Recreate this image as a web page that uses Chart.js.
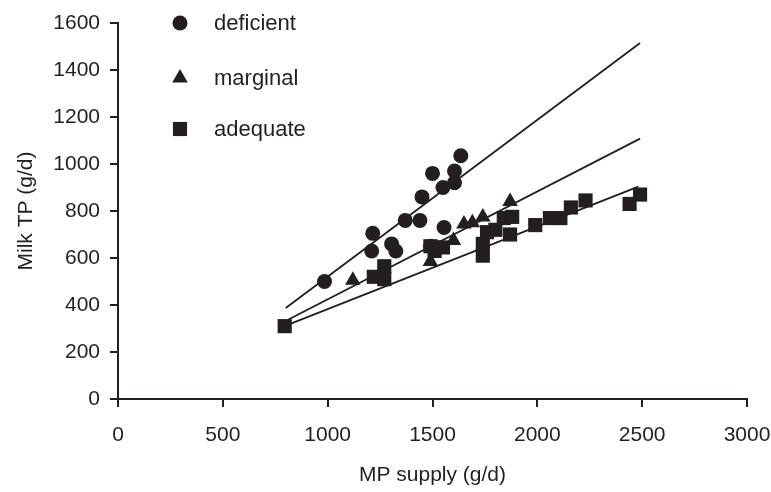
<!DOCTYPE html>
<html>
<head>
<meta charset="utf-8">
<script src="https://cdn.jsdelivr.net/npm/chart.js@4.4.1/dist/chart.umd.min.js"></script>
<style>
  html, body { margin: 0; padding: 0; background: #fff; }
  #wrap { width: 771px; height: 492px; position: relative; }
</style>
</head>
<body>
<div id="wrap"><canvas id="milkChart"></canvas></div>
<script>
// MP supply (g/d) vs milk TP (g/d), three groups
const deficientX = [985, 1210, 1215, 1305, 1325, 1370, 1440, 1450, 1490, 1500, 1550, 1555, 1605, 1605, 1635];
const deficientY = [500, 630, 705, 660, 630, 760, 760, 860, 650, 960, 900, 730, 920, 970, 1035];

const marginalX = [1120, 1490, 1530, 1600, 1650, 1690, 1740, 1870];
const marginalY = [505, 585, 640, 675, 745, 750, 775, 840];

const adequateX = [795, 1220, 1270, 1270, 1490, 1510, 1550, 1740, 1740, 1760, 1800, 1840, 1870, 1880, 1990, 2060, 2110, 2160, 2230, 2440, 2490];
const adequateY = [310, 520, 565, 510, 650, 630, 645, 610, 660, 710, 720, 770, 700, 775, 740, 770, 770, 815, 845, 830, 870];

// regression line end points
const deficientFitX = [800, 2490];
const deficientFitY = [387, 1515];
const marginalFitX = [806, 2490];
const marginalFitY = [335, 1108];
const adequateFitX = [800, 2482];
const adequateFitY = [312, 904];

const xTicks = [0, 500, 1000, 1500, 2000, 2500, 3000];
const yTicks = [0, 200, 400, 600, 800, 1000, 1200, 1400, 1600];

const legendLabels = ['deficient', 'marginal', 'adequate'];

const ink = '#231f20';
const font = 'Arial, "Liberation Sans", sans-serif';

function pts(xs, ys) {
    return xs.map((x, i) => ({ x: x, y: ys[i] }));
}

function fitLine(xs, ys) {
    return {
        data: pts(xs, ys),
        showLine: true,
        borderColor: ink,
        borderWidth: 1.8,
        pointRadius: 0,
        fill: false
    };
}

// legend drawn inside the plot, top left
const innerLegend = {
    id: 'innerLegend',
    afterDraw(chart) {
        const ctx = chart.ctx;
        const rows = [
            { style: 'circle', r: 7.5, y: 23 },
            { style: 'triangle', r: 9, y: 78 },
            { style: 'rect', r: 10, y: 129 }
        ];
        ctx.save();
        rows.forEach((row, i) => {
            ctx.fillStyle = ink;
            ctx.strokeStyle = ink;
            Chart.helpers.drawPoint(ctx, { pointStyle: row.style, radius: row.r, borderWidth: 0 }, 180, row.y);
            ctx.fillStyle = ink;
            ctx.font = '22px ' + font;
            ctx.textBaseline = 'middle';
            ctx.fillText(legendLabels[i], 214, row.y + 1);
        });
        ctx.restore();
    }
};

const tickFormat = v => String(v);

const ctx = document.getElementById('milkChart');
new Chart(ctx, {
    type: 'scatter',
    data: {
        datasets: [
            fitLine(deficientFitX, deficientFitY),
            fitLine(marginalFitX, marginalFitY),
            fitLine(adequateFitX, adequateFitY),
            {
                label: legendLabels[0],
                data: pts(deficientX, deficientY),
                pointStyle: 'circle',
                pointRadius: 7.5,
                backgroundColor: ink,
                borderWidth: 0
            },
            {
                label: legendLabels[1],
                data: pts(marginalX, marginalY),
                pointStyle: 'triangle',
                pointRadius: 9,
                backgroundColor: ink,
                borderWidth: 0
            },
            {
                label: legendLabels[2],
                data: pts(adequateX, adequateY),
                pointStyle: 'rect',
                pointRadius: 10,
                backgroundColor: ink,
                borderWidth: 0
            }
        ]
    },
    options: {
        responsive: true,
        maintainAspectRatio: false,
        animation: false,
        layout: { padding: { top: 23, right: 0, left: 14, bottom: 0 } },
        plugins: {
            legend: { display: false },
            tooltip: { enabled: false }
        },
        scales: {
            x: {
                type: 'linear',
                min: 0,
                max: 3000,
                afterBuildTicks: axis => { axis.ticks = xTicks.map(v => ({ value: v })); },
                afterFit: axis => {
                    axis.height = 93;
                    axis.paddingRight = 24;
                },
                border: { display: true, color: ink, width: 2 },
                grid: { drawOnChartArea: false, drawTicks: true, tickLength: 8, color: ink, lineWidth: 2 },
                ticks: { color: ink, font: { family: font, size: 21 }, padding: 16, callback: tickFormat },
                title: {
                    display: true,
                    text: 'MP supply (g/d)',
                    color: ink,
                    font: { family: font, size: 21 },
                    padding: { top: 10 }
                }
            },
            y: {
                type: 'linear',
                min: 0,
                max: 1600,
                afterBuildTicks: axis => { axis.ticks = yTicks.map(v => ({ value: v })); },
                afterFit: axis => { axis.width = 104; },
                border: { display: true, color: ink, width: 2 },
                grid: { drawOnChartArea: false, drawTicks: true, tickLength: 8, color: ink, lineWidth: 2 },
                ticks: { color: ink, font: { family: font, size: 21 }, padding: 10, callback: tickFormat },
                title: {
                    display: true,
                    text: 'Milk TP (g/d)',
                    color: ink,
                    font: { family: font, size: 21 },
                    padding: { top: 0, bottom: 0 }
                }
            }
        }
    },
    plugins: [innerLegend]
});
</script>
</body>
</html>
